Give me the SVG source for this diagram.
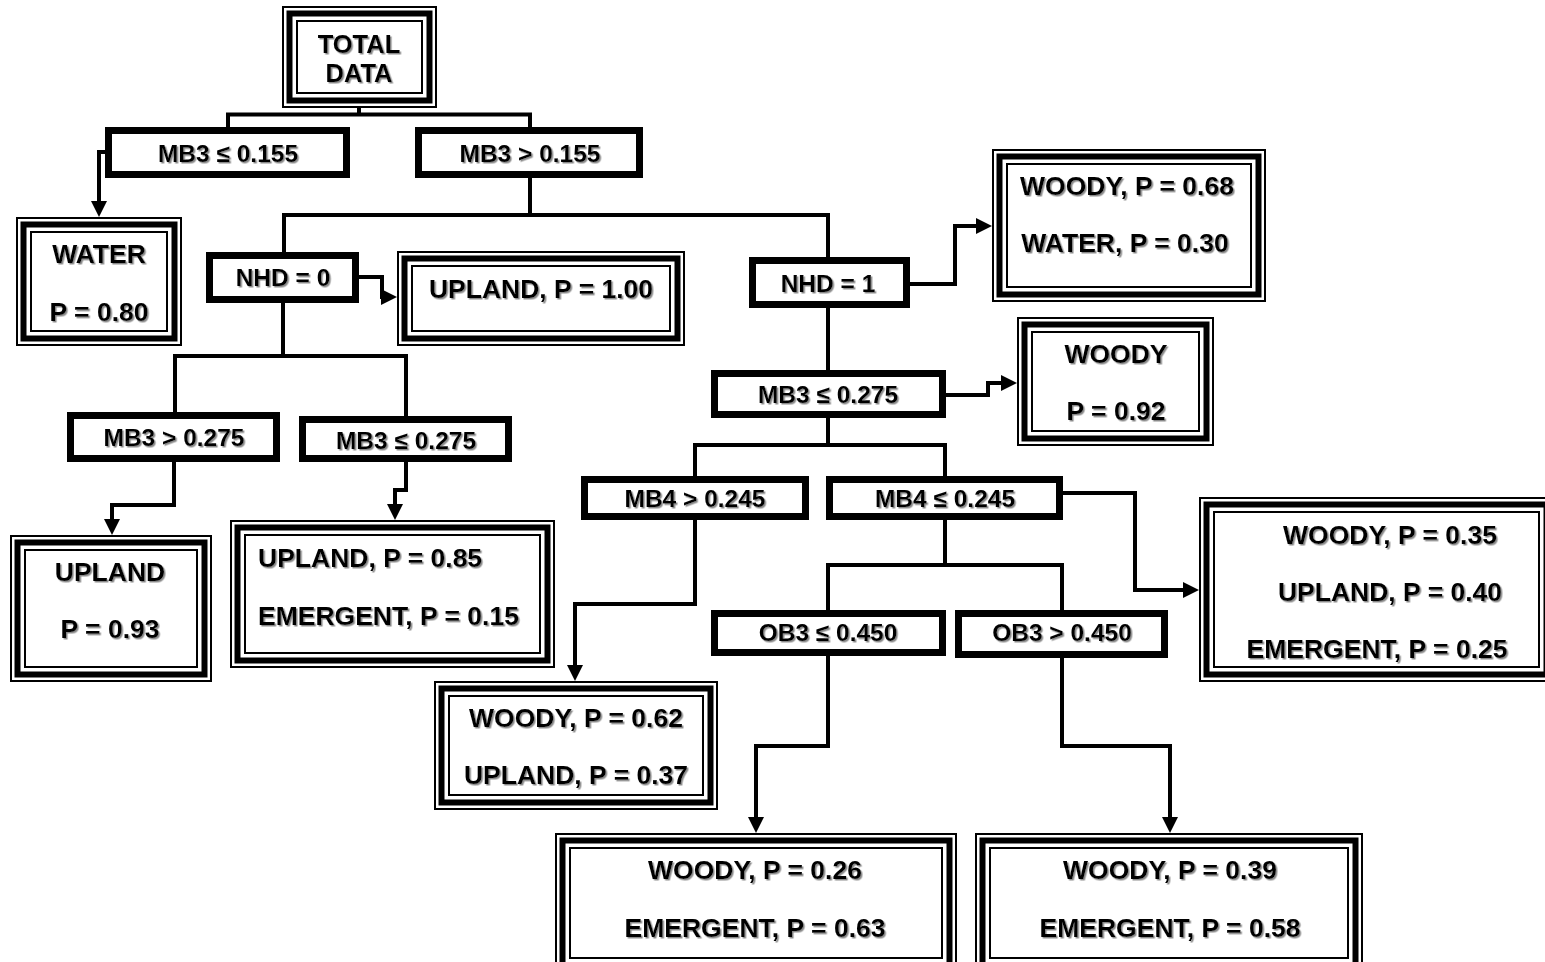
<svg xmlns="http://www.w3.org/2000/svg" width="1545" height="962" viewBox="0 0 1545 962">
<style>
.o{fill:#fff;stroke:#000;stroke-width:2}
.m{fill:none;stroke:#000;stroke-width:6}
.i{fill:none;stroke:#000;stroke-width:2}
.d{fill:#fff;stroke:#000;stroke-width:7}
.c{fill:none;stroke:#000;stroke-width:4}
.a{fill:none;stroke:#000;stroke-width:4;marker-end:url(#ah)}
text{font-family:"Liberation Sans",Arial,sans-serif;font-weight:bold;fill:#000;text-anchor:middle;filter:url(#sh)}
.t{font-size:26.5px}
.s{font-size:24.5px}
</style>
<defs>
<filter id="sh" x="-10%" y="-20%" width="130%" height="150%"><feDropShadow dx="1.5" dy="1.5" stdDeviation="0.4" flood-color="#8a8a8a" flood-opacity="1"/></filter>
<marker id="ah" markerUnits="userSpaceOnUse" markerWidth="16" markerHeight="16" refX="2" refY="8" orient="auto"><path d="M0,0 L16,8 L0,16 z" fill="#000"/></marker>
</defs>
<rect width="1545" height="962" fill="#fff"/>
<g id="connectors">
<path class="c" d="M359,108 V114.5 M228,127 V114.5 H530 V127"/>
<path class="a" d="M105,152 H99 V203"/>
<path class="c" d="M530,178 V215 M284,252 V215 H828 V257"/>
<path class="a" d="M359,277 H382 V297 H383"/>
<path class="a" d="M910,284 H955 V226 H978"/>
<path class="c" d="M828,308 V370"/>
<path class="a" d="M946,395 H988 V383 H1003"/>
<path class="c" d="M828,418 V445 M695,476 V445 H945 V476"/>
<path class="a" d="M1063,493 H1135 V590 H1185"/>
<path class="c" d="M945,520 V565 M828,610 V565 H1062 V610"/>
<path class="a" d="M695,520 V604 H575 V667"/>
<path class="c" d="M283,303 V356 M175,412 V356 H406 V416"/>
<path class="a" d="M174,462 V505 H112 V521"/>
<path class="a" d="M406,462 V490 H395 V506"/>
<path class="a" d="M828,656 V746 H756 V819"/>
<path class="a" d="M1062,658 V746 H1170 V819"/>
</g>
<g id="total">
<rect class="o" x="283" y="7" width="153" height="100"/><rect class="m" x="289.5" y="13.5" width="140" height="87"/><rect class="i" x="297" y="21" width="125" height="72"/>
<text class="t" x="359" y="53" style="font-size:25.5px">TOTAL</text><text class="t" x="359" y="82" style="font-size:25.5px">DATA</text>
</g>
<g id="d1"><rect class="d" x="108.5" y="130.5" width="238" height="44"/><text class="s" x="228" y="162">MB3 ≤ 0.155</text></g>
<g id="d2"><rect class="d" x="418.5" y="130.5" width="221" height="44"/><text class="s" x="530" y="162">MB3 &gt; 0.155</text></g>
<g id="water">
<rect class="o" x="17" y="218" width="164" height="127"/><rect class="m" x="23.5" y="224.5" width="151" height="114"/><rect class="i" x="31" y="232" width="136" height="99"/>
<text class="t" x="99" y="263">WATER</text><text class="t" x="99" y="321">P = 0.80</text>
</g>
<g id="nhd0"><rect class="d" x="209.5" y="255.5" width="146" height="44"/><text class="s" x="283" y="286">NHD = 0</text></g>
<g id="upland100">
<rect class="o" x="398" y="252" width="286" height="93"/><rect class="m" x="404.5" y="258.5" width="273" height="80"/><rect class="i" x="412" y="266" width="258" height="65"/>
<text class="t" x="541" y="298">UPLAND, P = 1.00</text>
</g>
<g id="nhd1"><rect class="d" x="752.5" y="260.5" width="154" height="44"/><text class="s" x="828" y="292">NHD = 1</text></g>
<g id="woody68">
<rect class="o" x="993" y="150" width="272" height="151"/><rect class="m" x="999.5" y="156.5" width="259" height="138"/><rect class="i" x="1007" y="164" width="244" height="123"/>
<text class="t" x="1127" y="195">WOODY, P = 0.68</text><text class="t" x="1125" y="252">WATER, P = 0.30</text>
</g>
<g id="d3"><rect class="d" x="714.5" y="373.5" width="228" height="41"/><text class="s" x="828" y="403">MB3 ≤ 0.275</text></g>
<g id="woody92">
<rect class="o" x="1018" y="318" width="195" height="127"/><rect class="m" x="1024.5" y="324.5" width="182" height="114"/><rect class="i" x="1032" y="332" width="167" height="99"/>
<text class="t" x="1116" y="363">WOODY</text><text class="t" x="1116" y="420">P = 0.92</text>
</g>
<g id="d4"><rect class="d" x="584.5" y="479.5" width="221" height="37"/><text class="s" x="695" y="507">MB4 &gt; 0.245</text></g>
<g id="d5"><rect class="d" x="829.5" y="479.5" width="230" height="37"/><text class="s" x="945" y="507">MB4 ≤ 0.245</text></g>
<g id="woody35">
<rect class="o" x="1200" y="498" width="353" height="183"/><rect class="m" x="1206.5" y="504.5" width="340" height="170"/><rect class="i" x="1214" y="512" width="325" height="155"/>
<text class="t" x="1390" y="544">WOODY, P = 0.35</text><text class="t" x="1390" y="601">UPLAND, P = 0.40</text><text class="t" x="1377" y="658">EMERGENT, P = 0.25</text>
</g>
<g id="d6"><rect class="d" x="714.5" y="613.5" width="228" height="39"/><text class="s" x="828" y="641">OB3 ≤ 0.450</text></g>
<g id="d7"><rect class="d" x="958.5" y="613.5" width="206" height="41"/><text class="s" x="1062" y="641">OB3 &gt; 0.450</text></g>
<g id="woody62">
<rect class="o" x="435" y="682" width="282" height="127"/><rect class="m" x="441.5" y="688.5" width="269" height="114"/><rect class="i" x="449" y="696" width="254" height="99"/>
<text class="t" x="576" y="727">WOODY, P = 0.62</text><text class="t" x="576" y="784">UPLAND, P = 0.37</text>
</g>
<g id="woody26">
<rect class="o" x="556" y="834" width="400" height="138"/><rect class="m" x="562.5" y="840.5" width="387" height="125"/><rect class="i" x="570" y="848" width="372" height="110"/>
<text class="t" x="755" y="879">WOODY, P = 0.26</text><text class="t" x="755" y="937">EMERGENT, P = 0.63</text>
</g>
<g id="woody39">
<rect class="o" x="976" y="834" width="386" height="138"/><rect class="m" x="982.5" y="840.5" width="373" height="125"/><rect class="i" x="990" y="848" width="358" height="110"/>
<text class="t" x="1170" y="879">WOODY, P = 0.39</text><text class="t" x="1170" y="937">EMERGENT, P = 0.58</text>
</g>
<g id="nhd0-l"><rect class="d" x="70.5" y="415.5" width="206" height="43"/><text class="s" x="174" y="446">MB3 &gt; 0.275</text></g>
<g id="d8"><rect class="d" x="302.5" y="419.5" width="206" height="39"/><text class="s" x="406" y="449">MB3 ≤ 0.275</text></g>
<g id="upland93">
<rect class="o" x="11" y="536" width="200" height="145"/><rect class="m" x="17.5" y="542.5" width="187" height="132"/><rect class="i" x="25" y="550" width="172" height="117"/>
<text class="t" x="110" y="581">UPLAND</text><text class="t" x="110" y="638">P = 0.93</text>
</g>
<g id="upland85">
<rect class="o" x="231" y="521" width="323" height="146"/><rect class="m" x="237.5" y="527.5" width="310" height="133"/><rect class="i" x="245" y="535" width="295" height="118"/>
<text class="t" x="258" y="567" style="text-anchor:start">UPLAND, P = 0.85</text><text class="t" x="258" y="625" style="text-anchor:start">EMERGENT, P = 0.15</text>
</g>
</svg>
